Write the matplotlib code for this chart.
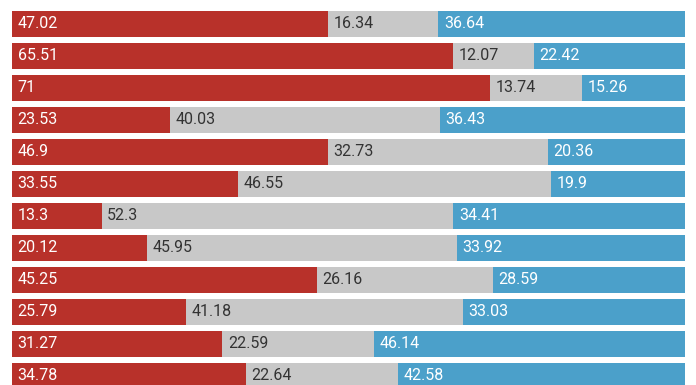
import matplotlib.pyplot as plt

red_vals = [47.02, 65.51, 71, 23.53, 46.9, 33.55, 13.3, 20.12, 45.25, 25.79, 31.27, 34.78]
gray_vals = [16.34, 12.07, 13.74, 40.03, 32.73, 46.55, 52.3, 45.95, 26.16, 41.18, 22.59, 22.64]
blue_vals = [36.64, 22.42, 15.26, 36.43, 20.36, 19.9, 34.41, 33.92, 28.59, 33.03, 46.14, 42.58]

colors = ['#b8312a', '#c8c8c8', '#4ba0ca']
text_colors = ['white', '#333333', 'white']

fig = plt.figure(figsize=(6.96, 3.85), dpi=100)
ax = fig.add_axes([0, 0, 1, 1])

rows = list(range(len(red_vals)))
left = [0] * len(rows)
for vals, c, tc in zip([red_vals, gray_vals, blue_vals], colors, text_colors):
    ax.barh(rows, vals, left=left, height=0.8125, color=c)
    for i, v in enumerate(vals):
        ax.annotate(f'{v:g}', (left[i], i), xytext=(4, 0), textcoords='offset points',
                    ha='left', va='center', color=tc, fontsize=11.5, family='Roboto')
    left = [l + v for l, v in zip(left, vals)]

ax.set_xlim(-12 / 6.73, (696 - 12) / 6.73)
ax.set_ylim((385 - 24) / 32, -24 / 32)
ax.axis('off')

fig.savefig('out.png', dpi=100)
